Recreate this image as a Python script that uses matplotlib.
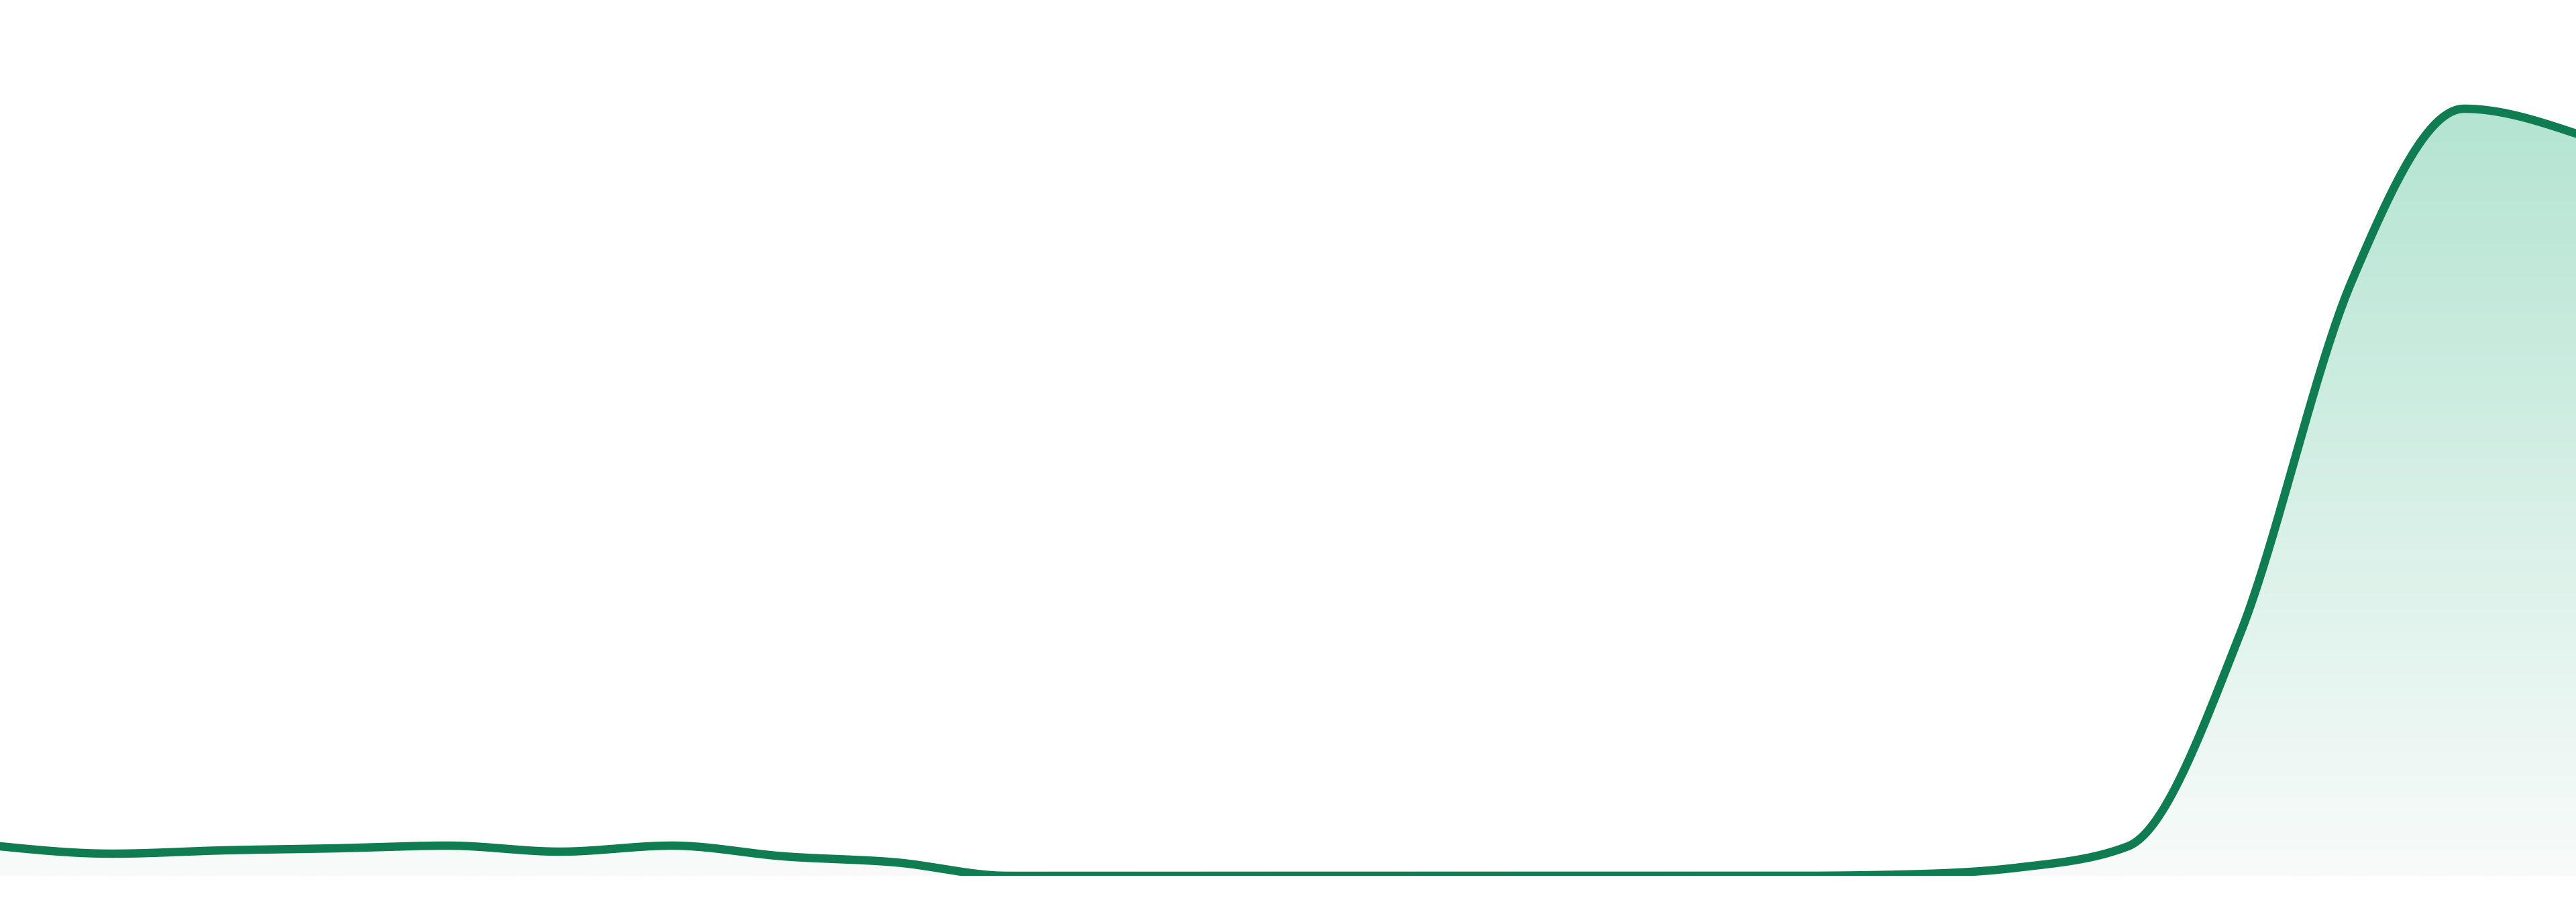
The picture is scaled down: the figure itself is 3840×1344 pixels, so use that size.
import numpy as np
import matplotlib
matplotlib.use("Agg")
import matplotlib.pyplot as plt

# daily values, one point per step
steps = list(range(24))
values = [44, 33, 38, 41, 45, 36, 45, 29, 20, 0, 0, 0, 0, 0, 0, 0, 0,
          2, 12, 44, 360, 887, 1143, 1106]

line_color = "#107c52"
fill_top = (180, 228, 210)
fill_bottom = (248, 251, 250)


def monotone_x(x, y, n=40):
    # same idea as d3 curveMonotoneX
    x = np.asarray(x, dtype=float)
    y = np.asarray(y, dtype=float)
    h = np.diff(x)
    s = np.diff(y) / h
    t = np.zeros(len(x))
    for i in range(1, len(x) - 1):
        s0, s1 = s[i - 1], s[i]
        p = (s0 * h[i] + s1 * h[i - 1]) / (h[i - 1] + h[i])
        t[i] = (np.sign(s0) + np.sign(s1)) * min(abs(s0), abs(s1), 0.5 * abs(p))
    t[0] = (3 * s[0] - t[1]) / 2
    t[-1] = (3 * s[-1] - t[-2]) / 2
    xs, ys = [], []
    for i in range(len(x) - 1):
        u = np.linspace(0, 1, n, endpoint=False)
        h00 = 2 * u**3 - 3 * u**2 + 1
        h10 = u**3 - 2 * u**2 + u
        h01 = -2 * u**3 + 3 * u**2
        h11 = u**3 - u**2
        xs.append(x[i] + u * h[i])
        ys.append(h00 * y[i] + h10 * h[i] * t[i] + h01 * y[i + 1] + h11 * h[i] * t[i + 1])
    xs.append([x[-1]])
    ys.append([y[-1]])
    return np.concatenate(xs), np.concatenate(ys)


xs, ys = monotone_x(steps, values)

fig = plt.figure(figsize=(38.4, 13.44), dpi=100)
fig.patch.set_facecolor("white")
ax = fig.add_axes([0, 39 / 1344, 1, 1305 / 1344])
ax.set_xlim(steps[0], steps[-1])
ax.set_ylim(0, 1305)
ax.axis("off")

# gradient under the line
top = max(values)
grad = np.linspace(0, 1, 256)[:, None]
rgb = np.zeros((256, 1, 3))
for k in range(3):
    rgb[:, :, k] = (fill_bottom[k] + (fill_top[k] - fill_bottom[k]) * grad) / 255
area = ax.fill_between(xs, ys, 0, color="none", lw=0)
im = ax.imshow(rgb, extent=[steps[0], steps[-1], 0, top], origin="lower",
               aspect="auto", interpolation="bilinear", zorder=1)
im.set_clip_path(area.get_paths()[0], transform=ax.transData)

ax.plot(xs, ys, color=line_color, lw=9.0, solid_capstyle="round",
        solid_joinstyle="round", zorder=3)

fig.savefig("out.png", dpi=100, facecolor="white")
